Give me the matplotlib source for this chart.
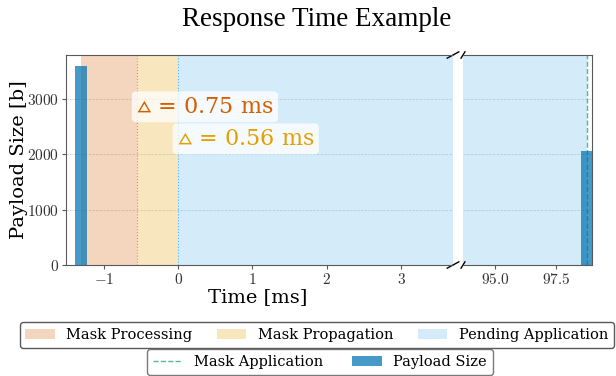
import matplotlib
matplotlib.use("Agg")
import matplotlib.pyplot as plt
from matplotlib.ticker import FuncFormatter, FixedLocator
from matplotlib.patches import Patch
from matplotlib.lines import Line2D

plt.rcParams['font.family'] = ['DejaVu Serif']
plt.rcParams['mathtext.fontset'] = 'cm'

# ---- data ----
t_processing_start = -1.31
t_propagation_start = -0.56
t_pending_start = 0.0
t_mask_application = 98.76
bar_times = [-1.31, 98.76]
bar_sizes = [3600, 2060]
bar_widths = [0.16, 0.45]
delta_labels = [r"$\vartriangle$ = 0.75 ms", r"$\vartriangle$ = 0.56 ms"]
delta_pos = [(0.36, 2855), (0.91, 2277)]
left_xlim = (-1.51, 3.70)
right_xlim = (93.69, 98.98)
ylim = (0, 3790)
left_xticks = [-1, 0, 1, 2, 3]
right_xticks = [95.0, 97.5]
yticks = [0, 1000, 2000, 3000]

c_proc = '#D55E00'
c_prop = '#E69F00'
c_pend = '#56B4E9'
c_app = '#009E73'
c_bar = '#0072B2'

fig = plt.figure(figsize=(6.16, 3.76), dpi=100)
W, H = 616, 376
def rect(x0, x1, y0, y1):
    return [x0 / W, (H - y1) / H, (x1 - x0) / W, (y1 - y0) / H]

ax1 = fig.add_axes(rect(66, 453, 55, 265))
ax2 = fig.add_axes(rect(463, 592, 55, 265), sharey=ax1)

for ax in (ax1, ax2):
    ax.axvspan(t_processing_start, t_propagation_start, color=c_proc, alpha=0.25, lw=0)
    ax.axvspan(t_propagation_start, t_pending_start, color=c_prop, alpha=0.25, lw=0)
    ax.axvspan(t_pending_start, t_mask_application, color=c_pend, alpha=0.25, lw=0)
    ax.axvline(t_propagation_start, color=c_prop, ls=':', lw=0.8)
    ax.axvline(t_pending_start, color=c_pend, ls=':', lw=0.8)
    ax.axvline(t_mask_application, color=c_app, ls='--', lw=1.0, alpha=0.7)
    ax.bar(bar_times, bar_sizes, width=bar_widths, color=c_bar, alpha=0.72, zorder=3)
    ax.grid(axis='y', ls='--', lw=0.5, color='0.8')
    ax.set_axisbelow(True)
    for s in ax.spines.values():
        s.set_color('0.35')
    ax.tick_params(colors='0.2', labelsize=11, length=3, color='0.35', pad=2)

ax1.set_xlim(*left_xlim)
ax2.set_xlim(*right_xlim)
ax1.set_ylim(*ylim)
ax1.spines['right'].set_visible(False)
ax2.spines['left'].set_visible(False)
ax2.tick_params(axis='y', left=False, labelleft=False)

ax1.xaxis.set_major_locator(FixedLocator(left_xticks))
ax2.xaxis.set_major_locator(FixedLocator(right_xticks))
ax1.yaxis.set_major_locator(FixedLocator(yticks))
ax1.xaxis.set_major_formatter(FuncFormatter(lambda v, p: f"${v:g}$"))
ax2.xaxis.set_major_formatter(FuncFormatter(lambda v, p: f"${v:.1f}$"))
ax1.yaxis.set_major_formatter(FuncFormatter(lambda v, p: f"${v:g}$"))

# break marks
d = 0.015
kw = dict(transform=ax1.transAxes, color='k', clip_on=False, lw=1)
ax1.plot((1 - d, 1 + d), (-d, +d), **kw)
ax1.plot((1 - d, 1 + d), (1 - d, 1 + d), **kw)
kw.update(transform=ax2.transAxes)
ax2.plot((-d, +d), (-d, +d), **kw)
ax2.plot((-d, +d), (1 - d, 1 + d), **kw)

# annotations
for lab, (x, y), c in zip(delta_labels, delta_pos, [c_proc, c_prop]):
    ax1.text(x, y, lab, color=c, fontsize=16, ha='center', va='center', zorder=5,
             bbox=dict(boxstyle='round,pad=0.2', fc='white', ec='none', alpha=0.75))

ax1.set_ylabel("Payload Size [b]", fontsize=14)
ax1.yaxis.set_label_coords((28 - 66) / (453 - 66), 0.5)
fig.text(258 / W, 1 - 297 / H, "Time [ms]", fontsize=14, ha='center', va='center')
fig.text(317 / W, 1 - 19 / H, "Response Time Example", fontsize=19.5,
         family='Liberation Serif', ha='center', va='center')

h1 = [Patch(color=c_proc, alpha=0.25, lw=0), Patch(color=c_prop, alpha=0.25, lw=0),
      Patch(color=c_pend, alpha=0.25, lw=0)]
l1 = ["Mask Processing", "Mask Propagation", "Pending Application"]
leg1 = fig.legend(h1, l1, ncol=3, loc='upper center', bbox_to_anchor=(317 / W, 1 - 322 / H),
                  fontsize=10.5, frameon=True, edgecolor='0.35', fancybox=True,
                  borderaxespad=0, columnspacing=1.7)
leg1.get_frame().set_alpha(1)
h2 = [Line2D([0], [0], color=c_app, ls='--', lw=1.0, alpha=0.7),
      Patch(color=c_bar, alpha=0.72, lw=0)]
l2 = ["Mask Application", "Payload Size"]
leg2 = fig.legend(h2, l2, ncol=2, loc='upper center', bbox_to_anchor=(320 / W, 1 - 349 / H),
                  fontsize=10.5, frameon=True, edgecolor='0.35', fancybox=True,
                  borderaxespad=0, columnspacing=2.0)

fig.savefig("out.png", dpi=100)
